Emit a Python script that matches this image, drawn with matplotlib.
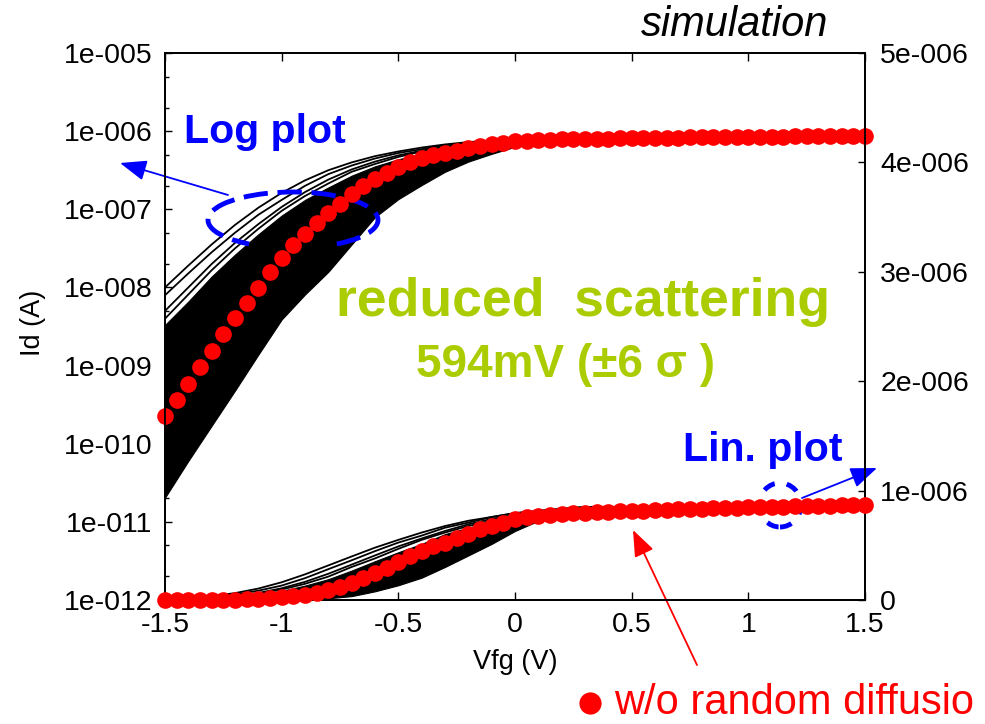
import matplotlib
matplotlib.use('Agg')
import matplotlib.pyplot as plt
from matplotlib.patches import Arc, Ellipse
from matplotlib.ticker import FixedLocator, FuncFormatter
import numpy as np

plt.rcParams['font.family'] = ['Liberation Sans', 'DejaVu Sans']

# gate sweep of the nominal device (red dots), log10(Id/A)
vfg = [-1.50, -1.45, -1.40, -1.35, -1.30, -1.25, -1.20, -1.15, -1.10, -1.05,
       -1.00, -0.95, -0.90, -0.85, -0.80, -0.75, -0.70, -0.65, -0.60, -0.55,
       -0.50, -0.45, -0.40, -0.35, -0.30, -0.25, -0.20, -0.15, -0.10, -0.05,
       0.00, 0.05, 0.10, 0.15, 0.20, 0.25, 0.30, 0.35, 0.40, 0.45,
       0.50, 0.55, 0.60, 0.65, 0.70, 0.75, 0.80, 0.85, 0.90, 0.95,
       1.00, 1.05, 1.10, 1.15, 1.20, 1.25, 1.30, 1.35, 1.40, 1.45, 1.50]
log_id_nominal = [-9.645, -9.44, -9.236, -9.014, -8.81, -8.60, -8.395, -8.195, -8.01, -7.80,
                  -7.62, -7.46, -7.32, -7.18, -7.05, -6.93, -6.81, -6.70, -6.61, -6.53,
                  -6.46, -6.40, -6.35, -6.31, -6.28, -6.25, -6.22, -6.19, -6.17, -6.15,
                  -6.13, -6.12, -6.115, -6.11, -6.105, -6.10, -6.10, -6.097, -6.095, -6.092,
                  -6.09, -6.088, -6.086, -6.084, -6.082, -6.08, -6.078, -6.076, -6.075, -6.074,
                  -6.072, -6.071, -6.07, -6.069, -6.068, -6.066, -6.065, -6.064, -6.062, -6.061, -6.06]

# spread of the random-diffusion devices (black), log10(Id/A)
vfg_band = [-1.5, -1.4, -1.3, -1.2, -1.1, -1.0, -0.9, -0.8, -0.7, -0.6, -0.5,
            -0.4, -0.3, -0.2, -0.1, 0.0, 0.1, 0.2, 0.3, 0.4, 0.5]
band_low = [-10.69, -10.22, -9.77, -9.32, -8.86, -8.41, -8.09, -7.80, -7.45, -7.10, -6.87,
            -6.69, -6.52, -6.39, -6.29, -6.20, -6.14, -6.11, -6.10, -6.09, -6.09]
band_high = [-8.48, -8.18, -7.86, -7.58, -7.32, -7.08, -6.88, -6.72, -6.57, -6.45, -6.36,
             -6.29, -6.22, -6.18, -6.14, -6.12, -6.10, -6.09, -6.08, -6.08, -6.08]
outliers = [
    [-8.00, -7.72, -7.45, -7.20, -6.98, -6.79, -6.63, -6.50, -6.40, -6.32, -6.26,
     -6.21, -6.17, -6.14, -6.12, -6.10, -6.09, -6.08, -6.07, -6.07, -6.07],
    [-8.10, -7.82, -7.55, -7.30, -7.07, -6.88, -6.70, -6.55, -6.44, -6.35, -6.28,
     -6.23, -6.18, -6.15, -6.12, -6.10, -6.09, -6.08, -6.07, -6.07, -6.07],
    [-8.30, -8.00, -7.70, -7.43, -7.19, -6.97, -6.78, -6.62, -6.49, -6.39, -6.31,
     -6.25, -6.20, -6.16, -6.13, -6.11, -6.09, -6.08, -6.08, -6.07, -6.07],
    [-8.40, -8.09, -7.78, -7.50, -7.25, -7.02, -6.83, -6.67, -6.52, -6.42, -6.33,
     -6.26, -6.21, -6.17, -6.14, -6.11, -6.10, -6.09, -6.08, -6.08, -6.07],
]

log_ticks = [-12, -11, -10, -9, -8, -7, -6, -5]
lin_ticks = [0, 1e-6, 2e-6, 3e-6, 4e-6, 5e-6]
lin_labels = ['0', '1e-006', '2e-006', '3e-006', '4e-006', '5e-006']
x_ticks = [-1.5, -1, -0.5, 0, 0.5, 1, 1.5]
x_labels = ['-1.5', '-1', '-0.5', '0', '0.5', '1', '1.5']

RED = '#ff0000'
BLUE = '#0000ff'
GREEN = '#aacc00'

W, H = 985, 724


def fpos(x, y):
    # image pixel (top-left origin) -> figure fraction
    return x / W, 1 - y / H


id_nom = 10 ** np.array(log_id_nominal)
lo = 10 ** np.array(band_low)
hi = 10 ** np.array(band_high)

fig = plt.figure(figsize=(9.85, 7.24), dpi=100)
ax = fig.add_axes([165 / W, 124 / H, 700 / W, 547 / H])
ax2 = ax.twinx()

# log plot
ax.set_yscale('log')
ax.fill_between(vfg_band, lo, hi, color='black', lw=0.8, zorder=2)
for o in outliers:
    ax.plot(vfg_band, 10 ** np.array(o), color='black', lw=1.3, zorder=2)
ax.plot(vfg, id_nom, 'o', color=RED, ms=12, mec='none', zorder=5, clip_on=False)
ax.add_patch(Arc(((293 - 165) / 700, (600 - 220) / 547), 170 / 700, 56 / 547,
                 theta1=-35, theta2=215, transform=ax.transAxes, color=BLUE,
                 lw=3.5, ls=(0, (5, 2)), zorder=4))

# linear plot
ax2.fill_between(vfg_band, lo, hi, color='black', lw=0.8, zorder=2)
for o in outliers:
    ax2.plot(vfg_band, 10 ** np.array(o), color='black', lw=1.3, zorder=2)
ax2.add_patch(Ellipse(((780 - 165) / 700, (600 - 505) / 547), 42 / 700, 44 / 547,
                      transform=ax2.transAxes, fill=False, ec=BLUE,
                      lw=3.5, ls=(0, (2.5, 2.5)), zorder=3))
ax2.plot(vfg, id_nom, 'o', color=RED, ms=12, mec='none', zorder=5, clip_on=False)

ax.set_xlim(-1.5, 1.5)
ax.set_ylim(1e-12, 1e-5)
ax2.set_ylim(0, 5e-6)

ax.yaxis.set_major_locator(FixedLocator([10.0 ** e for e in log_ticks]))
ax.yaxis.set_major_formatter(FuncFormatter(lambda v, p: '1e-%03d' % round(-np.log10(v))))
minor = [m * 10.0 ** e for e in log_ticks[:-1] for m in (2, 5)]
ax.yaxis.set_minor_locator(FixedLocator(minor))
ax.yaxis.set_minor_formatter(FuncFormatter(lambda v, p: ''))
ax2.set_yticks(lin_ticks)
ax2.set_yticklabels(lin_labels)
ax.set_xticks(x_ticks)
ax.set_xticklabels(x_labels)

ax.tick_params(axis='y', which='major', direction='in', length=5, width=1, labelsize=20.5, pad=9)
ax.tick_params(axis='y', which='minor', direction='in', length=3, width=1)
ax.tick_params(axis='x', direction='in', length=6, width=1, labelsize=20.5, pad=9, top=True)
ax2.tick_params(axis='y', direction='in', length=5, width=1, labelsize=20.5, pad=11)
for a in (ax, ax2):
    for s in a.spines.values():
        s.set_linewidth(1.3)

ax.set_xlabel('Vfg (V)', fontsize=19.5)
ax.xaxis.set_label_coords(0.5, -0.09)
ax.set_ylabel('Id (A)', fontsize=19.5)
ax.yaxis.set_label_coords(-0.17, 0.506)

# annotations
fig.text(*fpos(735, 25), 'simulation', fontsize=30, style='italic', ha='center', va='center')
fig.text(*fpos(265, 132), 'Log plot', fontsize=29.5, weight='bold', color=BLUE, ha='center', va='center')
fig.text(*fpos(763, 450), 'Lin. plot', fontsize=29.5, weight='bold', color=BLUE, ha='center', va='center')
fig.text(*fpos(583, 302), 'reduced  scattering', fontsize=38.5, weight='bold', color=GREEN,
         ha='center', va='center')
fig.text(*fpos(566, 365), '594mV (±6 σ )', fontsize=33, weight='bold', color=GREEN,
         ha='center', va='center')
fig.text(*fpos(614, 703), 'w/o random diffusio', fontsize=30, color=RED, ha='left', va='center')
fig.lines.append(plt.Line2D([590 / W], [1 - 703 / H], marker='o', ms=16, color=RED, mec='none',
                            transform=fig.transFigure))


def arrow(x0, y0, x1, y1, color):
    ax.annotate('', xy=(x1, H - y1), xytext=(x0, H - y0), xycoords='figure pixels',
                textcoords='figure pixels', annotation_clip=False,
                arrowprops=dict(arrowstyle='-|>,head_length=0.9,head_width=0.35',
                                color=color, lw=1.3, mutation_scale=18, shrinkA=0, shrinkB=0))


arrow(228, 195, 120, 163, BLUE)
arrow(802, 498, 877, 468, BLUE)
arrow(697, 665, 633, 530, RED)

plt.savefig('out.png', dpi=100)
